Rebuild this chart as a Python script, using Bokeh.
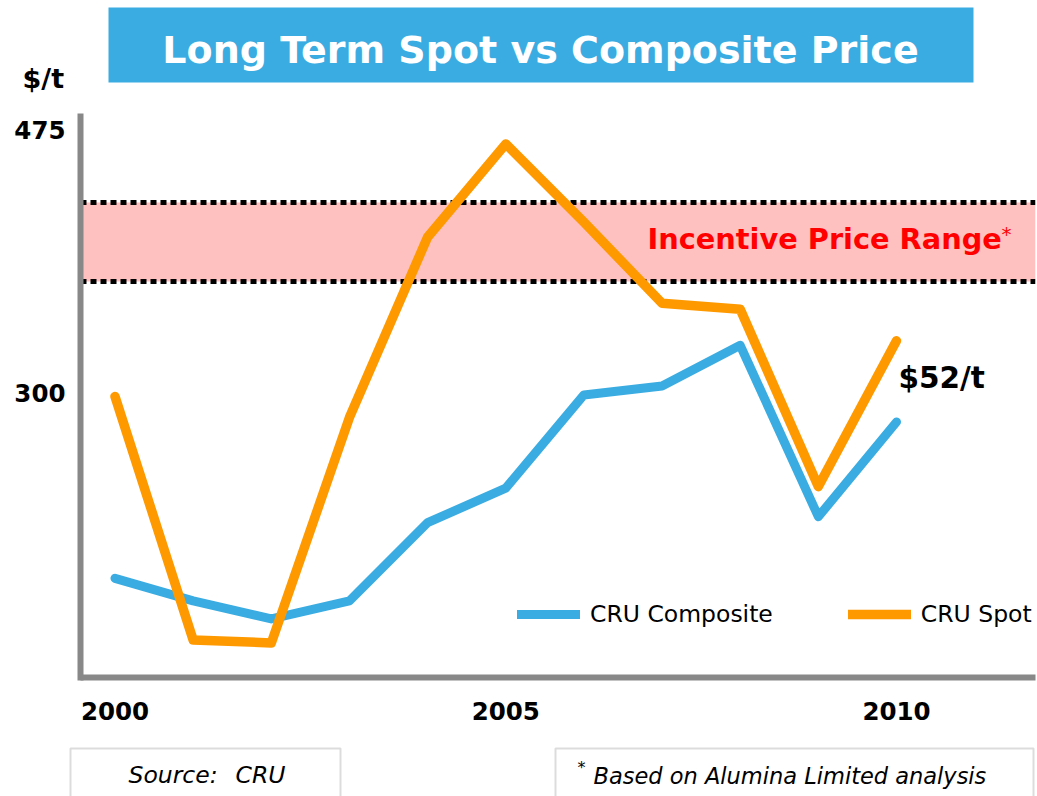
from bokeh.plotting import figure
from bokeh.layouts import column
from bokeh.models import Range1d, BoxAnnotation, Span, Label, Legend, LegendItem
from bokeh.embed import file_html
from bokeh.resources import INLINE

# ---------------- data ----------------
years = [2000, 2001, 2002, 2003, 2004, 2005, 2006, 2007, 2008, 2009, 2010]
cru_composite = [177, 162, 150, 162, 214, 237, 299, 305, 332, 218, 281]
cru_spot = [298, 136, 134, 284, 404, 466, 414, 360, 356, 238, 335]
series_names = ["CRU Composite", "CRU Spot"]
incentive_range = [374.5, 427]
y_ticks = [300, 475]
x_ticks = [2000, 2005, 2010]

BLUE = "#3AACE1"
ORANGE = "#FF9900"
PINK = "#FFC0C0"
AXIS = "#888888"
FONT = "DejaVu Sans"
W = 1037
BASE_SHIFT = 0.35   # Bokeh places "alphabetic" label text ~0.35em lower than asked


def lift(page_y, size):
    """page baseline -> page y to request, compensating for the text box offset"""
    return page_y - BASE_SHIFT * size


# ---------------- header strip (page y 0..105) ----------------
TOP_H = 105
top = figure(width=W, height=TOP_H, output_backend="svg", toolbar_location=None,
             x_range=Range1d(0, W), y_range=Range1d(0, TOP_H),
             x_axis_location=None, y_axis_location=None, min_border=0,
             outline_line_color=None, background_fill_color="white", border_fill_color="white")
top.grid.visible = False
top.add_layout(BoxAnnotation(left=108, right=973, top=TOP_H - 7, bottom=TOP_H - 82,
                             fill_color=BLUE, fill_alpha=1.0, line_color=None))
top.add_layout(Label(x=540, y=TOP_H - lift(63, 38), text="Long Term Spot vs Composite Price",
                     text_align="center", text_baseline="alphabetic", text_font=FONT,
                     text_font_size="38px", text_font_style="bold", text_color="white"))
top.add_layout(Label(x=22, y=TOP_H - lift(87, 27), text="$/t", text_align="left",
                     text_baseline="alphabetic", text_font=FONT, text_font_size="27px",
                     text_font_style="bold", text_color="black"))

# ---------------- main chart (page y 105..740) ----------------
MAIN_TOP, MAIN_H = 105, 635
FRAME_L, FRAME_R, FRAME_T, FRAME_B = 80, 1035, 116, 677   # page px
PPX = 78.15    # px per year
PPY = 1.503    # px per $/t
X0 = 2000 - (114.5 - FRAME_L) / PPX
X1 = X0 + (FRAME_R - FRAME_L) / PPX
Y0 = 111.0
Y1 = Y0 + (FRAME_B - FRAME_T) / PPY


def px2x(px):
    return X0 + (px - FRAME_L) / PPX


def py2y(py):
    return Y0 + (FRAME_B - py) / PPY


p = figure(width=W, height=MAIN_H, output_backend="svg", toolbar_location=None,
           x_range=Range1d(X0, X1), y_range=Range1d(Y0, Y1),
           min_border_left=FRAME_L, min_border_right=W - FRAME_R,
           min_border_top=FRAME_T - MAIN_TOP, min_border_bottom=MAIN_TOP + MAIN_H - FRAME_B,
           outline_line_color=None, background_fill_color="white", border_fill_color="white")
p.grid.visible = False

for ax in (p.xaxis[0], p.yaxis[0]):
    ax.major_tick_out = 0
    ax.major_tick_in = 0
    ax.minor_tick_out = 0
    ax.minor_tick_in = 0
    ax.axis_line_width = 6
    ax.axis_line_color = AXIS
    ax.major_label_text_font = FONT
    ax.major_label_text_font_style = "bold"
    ax.major_label_text_font_size = "24.5px"
    ax.major_label_text_color = "black"

p.xaxis.ticker = x_ticks
p.yaxis.ticker = y_ticks
p.yaxis.axis_line_cap = "square"
p.xaxis.major_label_standoff = 24
p.yaxis.major_label_standoff = 15

# incentive band
p.add_layout(BoxAnnotation(bottom=incentive_range[0], top=incentive_range[1], fill_color=PINK,
                           fill_alpha=1.0, line_color=None, level="underlay"))
for v in incentive_range:
    p.add_layout(Span(location=v, dimension="width", line_color="black", line_width=5,
                      line_dash="6 4", level="underlay"))

r_comp = p.line(years, cru_composite, line_color=BLUE, line_width=9,
                line_join="round", line_cap="round")
r_spot = p.line(years, cru_spot, line_color=ORANGE, line_width=9.5,
                line_join="round", line_cap="round")

legend = Legend(items=[LegendItem(label=series_names[0], renderers=[r_comp]),
                       LegendItem(label=series_names[1], renderers=[r_spot])],
                location=(517 - FRAME_L, 49), orientation="horizontal",
                glyph_width=63, glyph_height=24, label_height=24, label_standoff=10,
                spacing=75, padding=0, margin=0, border_line_color=None,
                background_fill_alpha=0, label_text_font=FONT,
                label_text_font_size="23.5px", label_text_color="black")
p.add_layout(legend)

p.add_layout(Label(x=px2x(647), y=py2y(lift(249, 28.8)), text="Incentive Price Range",
                   text_align="left", text_baseline="alphabetic", text_font=FONT,
                   text_font_size="28.8px", text_font_style="bold", text_color="#FF0000"))
p.add_layout(Label(x=px2x(1001), y=py2y(lift(240, 20)), text="*", text_align="left",
                   text_baseline="alphabetic", text_font=FONT, text_font_size="20px",
                   text_color="#FF0000"))
p.add_layout(Label(x=px2x(898), y=py2y(lift(388, 29.5)), text="$52/t", text_align="left",
                   text_baseline="alphabetic", text_font=FONT, text_font_size="29.5px",
                   text_font_style="bold", text_color="black"))

# ---------------- footnotes (page y 740..796) ----------------
BOT_TOP, BOT_H = 740, 56
bot = figure(width=W, height=BOT_H, output_backend="svg", toolbar_location=None,
             x_range=Range1d(0, W), y_range=Range1d(0, BOT_H),
             x_axis_location=None, y_axis_location=None, min_border=0,
             outline_line_color=None, background_fill_color="white", border_fill_color="white")
bot.grid.visible = False


def by(py):
    return BOT_TOP + BOT_H - py


bot.add_layout(BoxAnnotation(left=70, right=340, top=by(748), bottom=by(810),
                             fill_alpha=0, line_color="#8C8C8C", line_width=2))
bot.add_layout(BoxAnnotation(left=555, right=1033, top=by(748), bottom=by(810),
                             fill_alpha=0, line_color="#8C8C8C", line_width=2))
bot.add_layout(Label(x=128, y=by(lift(783, 23.5)), text="Source:", text_align="left",
                     text_baseline="alphabetic", text_font=FONT, text_font_size="23.5px",
                     text_font_style="italic", text_color="black"))
bot.add_layout(Label(x=235, y=by(lift(783, 23.5)), text="CRU", text_align="left",
                     text_baseline="alphabetic", text_font=FONT, text_font_size="23.5px",
                     text_font_style="italic", text_color="black"))
bot.add_layout(Label(x=577, y=by(lift(773, 16)), text="*", text_align="left",
                     text_baseline="alphabetic", text_font=FONT, text_font_size="16px",
                     text_font_style="italic", text_color="black"))
bot.add_layout(Label(x=593, y=by(lift(783, 22.5)), text="Based on Alumina Limited analysis",
                     text_align="left", text_baseline="alphabetic", text_font=FONT,
                     text_font_size="22.5px", text_font_style="italic", text_color="black"))

layout = column(column(top), column(p), column(bot), spacing=0)
open("out.html", "w").write(file_html(layout, INLINE))
